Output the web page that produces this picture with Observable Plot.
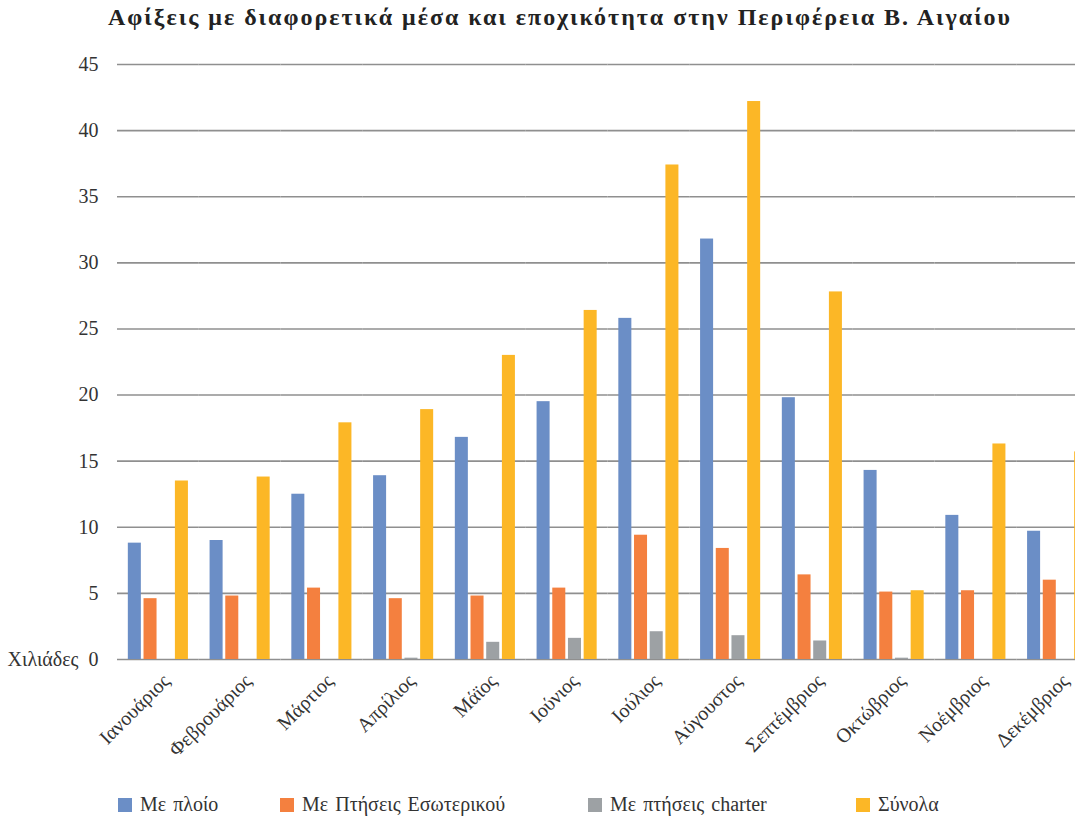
<!DOCTYPE html>
<html><head><meta charset="utf-8">
<script src="https://cdn.jsdelivr.net/npm/d3@7"></script>
<script src="https://cdn.jsdelivr.net/npm/@observablehq/plot@0.6"></script>
<style>
html,body{margin:0;padding:0;background:#fff;}
body{overflow:hidden;width:1075px;height:816px;position:relative;}
#title{position:absolute;top:4px;left:108px;white-space:nowrap;font:bold 24px "Liberation Serif",serif;letter-spacing:2px;color:#222;}
#chart{position:absolute;top:40px;left:0;width:1120px;}
#chart svg{max-width:none !important;}
#legend{position:absolute;top:793px;left:0;width:1075px;height:24px;}
.item{position:absolute;top:0;display:flex;align-items:center;font:20px "Liberation Serif",serif;word-spacing:2px;color:#333;white-space:nowrap;}
.sw{width:14px;height:14px;margin-right:8px;}
</style></head><body>
<div id="title">Αφίξεις με διαφορετικά μέσα και εποχικότητα στην Περιφέρεια Β. Αιγαίου</div>
<div id="chart"></div>
<div id="legend"></div>
<script>
const months = ["Ιανουάριος","Φεβρουάριος","Μάρτιος","Απρίλιος","Μάϊος","Ιούνιος","Ιούλιος","Αύγουστος","Σεπτέμβριος","Οκτώβριος","Νοέμβριος","Δεκέμβριος"];
const series = ["Με πλοίο","Με Πτήσεις Εσωτερικού","Με πτήσεις charter","Σύνολα"];
const seriesColors = ["#6b8ec6","#f4803f","#9da1a4","#fcb726"];
const byShip     = [8.8, 9.0, 12.5, 13.9, 16.8, 19.5, 25.8, 31.8, 19.8, 14.3, 10.9, 9.7];
const byDomestic = [4.6, 4.8, 5.4, 4.6, 4.8, 5.4, 9.4, 8.4, 6.4, 5.1, 5.2, 6.0];
const byCharter  = [0, 0, 0, 0.1, 1.3, 1.6, 2.1, 1.8, 1.4, 0.1, 0, 0];
const totals     = [13.5, 13.8, 17.9, 18.9, 23.0, 26.4, 37.4, 42.2, 27.8, 5.2, 16.3, 15.7];
const yTicks = [0, 5, 10, 15, 20, 25, 30, 35, 40, 45];
const yUnit = "Χιλιάδες";

const seriesValues = [byShip, byDomestic, byCharter, totals];
const rows = months.flatMap((m, i) => series.map((s, j) => ({month: m, series: s, value: seriesValues[j][i]})));

const chart = Plot.plot({
  width: 1120,
  height: 753,
  marginTop: 24,
  marginBottom: 134,
  marginLeft: 117,
  marginRight: 22,
  style: {fontFamily: "'Liberation Serif', serif", color: "#333", background: "#fff"},
  fx: {domain: months, padding: 0, round: false, label: null},
  x: {domain: series, paddingInner: 0.17, paddingOuter: 0.69, round: false, axis: null},
  y: {domain: [0, 45], label: null},
  color: {domain: series, range: seriesColors},
  marks: [
    Plot.ruleY(yTicks, {stroke: "#8f8f8f", strokeWidth: 1.6}),
    Plot.barY(rows, {fx: "month", x: "series", y: "value", fill: "series"}),
    Plot.axisY({ticks: yTicks, tickSize: 0, tickPadding: 19, fontSize: 20, label: null,
      tickFormat: d => d === 0 ? yUnit + "\u00a0\u00a00" : String(d)}),
    Plot.axisFx({anchor: "bottom", tickRotate: -45, tickSize: 0, tickPadding: 18, dx: 8, fontSize: 20, label: null})
  ]
});
document.getElementById("chart").appendChild(chart);

const legendLefts = [118, 280, 588, 856];
const legend = document.getElementById("legend");
series.forEach((s, j) => {
  const item = document.createElement("div");
  item.className = "item";
  item.style.left = legendLefts[j] + "px";
  const sw = document.createElement("span");
  sw.className = "sw";
  sw.style.background = seriesColors[j];
  item.appendChild(sw);
  item.appendChild(document.createTextNode(s));
  legend.appendChild(item);
});
</script>
</body></html>
